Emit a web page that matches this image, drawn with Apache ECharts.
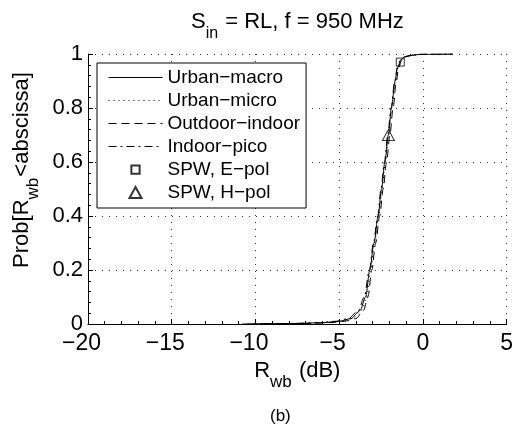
<!DOCTYPE html>
<html>
<head>
<meta charset="utf-8">
<script src="https://cdn.jsdelivr.net/npm/echarts@6/dist/echarts.min.js"></script>
<style>
html, body { margin: 0; padding: 0; background: #fff; }
#chart { width: 516px; height: 430px; }
</style>
</head>
<body>
<div id="chart"></div>
<script>
var FONT = 'Liberation Sans, Arial, Helvetica, sans-serif';

// CDF levels (y) shared by the four curves
var probLevels = [0, 0.002, 0.005, 0.01, 0.02, 0.05, 0.1, 0.2, 0.3, 0.4, 0.5, 0.6, 0.7, 0.8, 0.9, 0.95, 0.98, 0.99, 0.995, 0.999, 1];
// R_wb (dB) reached at each level
var urbanMacro    = [-10.5, -7.5, -6.0, -5.0, -4.3, -3.75, -3.42, -3.17, -2.92, -2.67, -2.47, -2.27, -2.06, -1.88, -1.66, -1.52, -1.30, -1.05, -0.70, -0.10, 1.80];
var urbanMicro    = [-10.0, -7.2, -5.8, -4.9, -4.2, -3.65, -3.35, -3.12, -2.88, -2.64, -2.44, -2.24, -2.04, -1.85, -1.63, -1.48, -1.25, -1.00, -0.65, -0.05, 1.80];
var outdoorIndoor = [-10.3, -7.0, -5.5, -4.7, -4.0, -3.55, -3.28, -3.05, -2.82, -2.58, -2.37, -2.17, -1.97, -1.78, -1.58, -1.45, -1.25, -1.00, -0.68, -0.10, 1.80];
var indoorPico    = [-10.8, -7.8, -6.2, -5.2, -4.45, -3.85, -3.50, -3.20, -2.95, -2.70, -2.50, -2.30, -2.10, -1.90, -1.68, -1.52, -1.32, -1.08, -0.75, -0.15, 1.80];
// single plane wave points [R_wb, prob]
var spwEpol = [-1.35, 0.97];
var spwHpol = [-2.06, 0.70];

var names = ['Urban\u2212macro', 'Urban\u2212micro', 'Outdoor\u2212indoor', 'Indoor\u2212pico', 'SPW, E\u2212pol', 'SPW, H\u2212pol'];
var curves = [urbanMacro, urbanMicro, outdoorIndoor, indoorPico];
var dashes = ['solid', [1, 4], [8, 5], [8, 4, 2, 4]];

function toPoints(xs) {
    return xs.map(function (x, i) { return [x, probLevels[i]]; });
}

// matlab style: digits centred on the tick, minus sign hanging left
function xLabel(v) {
    if (v < 0) return '{n|\u2212' + (-v) + '}';
    return '{p|' + v + '}';
}

var series = [];
curves.forEach(function (xs, k) {
    series.push({
        name: names[k],
        type: 'line',
        data: toPoints(xs),
        symbol: 'none',
        smooth: 0.3,
        smoothMonotone: 'x',
        lineStyle: { color: '#000', width: 1, type: dashes[k] },
        itemStyle: { color: '#000' }
    });
});
series.push({
    name: names[4], type: 'scatter', data: [spwEpol], symbol: 'rect', symbolSize: 8,
    itemStyle: { color: 'rgba(255,255,255,0)', borderColor: '#000', borderWidth: 1 }, z: 5
});
series.push({
    name: names[5], type: 'scatter', data: [spwHpol], symbol: 'triangle', symbolSize: [12, 11],
    itemStyle: { color: 'rgba(255,255,255,0)', borderColor: '#000', borderWidth: 1 }, z: 5
});

// legend entries: lines without a dot, markers at their own size
var legendData = names.slice(0, 4).map(function (n) {
    return { name: n, itemStyle: { opacity: 0 }, lineStyle: { width: 1 } };
});
legendData.push({ name: names[4], icon: 'path://M0,0M1.5,1.5H10.5V10.5H1.5ZM12,12' });
legendData.push({ name: names[5], icon: 'path://M6,0L12,11H0Z' });

var gridLine = { show: true, lineStyle: { color: '#333', width: 1, type: [1, 6] } };
var nameRich = {
    m: { fontSize: 22, fontFamily: FONT, color: '#000', verticalAlign: 'top', lineHeight: 25 },
    s: { fontSize: 17, fontFamily: FONT, color: '#000', verticalAlign: 'top', lineHeight: 17, padding: [14, 1, 0, 0] }
};

var chart = echarts.init(document.getElementById('chart'));
chart.setOption({
    animation: false,
    backgroundColor: '#fff',
    textStyle: { fontFamily: FONT },
    title: {
        text: '{m|S}{s|in}{m| = RL, f = 950 MHz}',
        left: 186, top: 6,
        textStyle: {
            fontWeight: 'normal',
            rich: {
                m: { fontSize: 22, fontFamily: FONT, fontWeight: 'normal', color: '#000', verticalAlign: 'top', lineHeight: 24 },
                s: { fontSize: 16, fontFamily: FONT, fontWeight: 'normal', color: '#000', verticalAlign: 'top', lineHeight: 16, padding: [15, 1, 0, 0] }
            }
        }
    },
    grid: { left: 88, right: 7, top: 54, bottom: 106, containLabel: false },
    legend: {
        orient: 'vertical',
        left: 97, top: 63,
        data: legendData,
        backgroundColor: '#fff',
        borderColor: '#000', borderWidth: 1, borderRadius: 0,
        padding: [5, 6, 6, 11],
        itemWidth: 54, itemHeight: 11, itemGap: 4,
        textStyle: { fontSize: 19, lineHeight: 19, color: '#000', fontFamily: FONT }
    },
    xAxis: {
        type: 'value', min: -20, max: 5, interval: 5,
        name: '{m|R}{s|wb}{m| (dB)}',
        nameLocation: 'middle', nameGap: 34,
        nameTextStyle: { rich: nameRich },
        axisLine: { show: true, onZero: false, lineStyle: { color: '#000', width: 1 } },
        axisTick: { show: true, inside: true, length: 5, lineStyle: { color: '#000' } },
        minorTick: { show: true, splitNumber: 5, length: 3, lineStyle: { color: '#000' } },
        axisLabel: {
            color: '#000', margin: 8, formatter: xLabel,
            rich: {
                n: { fontSize: 23, fontFamily: FONT, color: '#000', padding: [0, 13, 0, 0] },
                p: { fontSize: 23, fontFamily: FONT, color: '#000' }
            }
        },
        splitLine: gridLine
    },
    yAxis: {
        type: 'value', min: 0, max: 1, interval: 0.2,
        name: '{m|Prob[R}{s|wb}{m|<abscissa]}',
        nameLocation: 'middle', nameRotate: 90, nameGap: 46,
        nameTextStyle: { padding: [0, 0, 0, 38], rich: nameRich },
        axisLine: { show: true, onZero: false, lineStyle: { color: '#000', width: 1 } },
        axisTick: { show: true, inside: true, length: 5, lineStyle: { color: '#000' } },
        minorTick: { show: true, splitNumber: 5, length: 3, lineStyle: { color: '#000' } },
        axisLabel: { fontSize: 22, color: '#000', margin: 5, fontFamily: FONT },
        splitLine: gridLine
    },
    graphic: [{
        type: 'text', left: 270, top: 408,
        style: { text: '(b)', fontSize: 17, fontFamily: FONT, fill: '#000' }
    }],
    series: series
});
</script>
</body>
</html>
